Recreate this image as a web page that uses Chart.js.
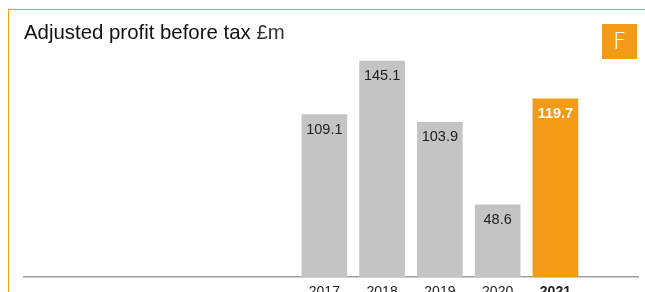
<!DOCTYPE html>
<html>
<head>
<meta charset="utf-8">
<script src="https://cdn.jsdelivr.net/npm/chart.js@4"></script>
<style>
    html, body { margin: 0; padding: 0; width: 645px; height: 292px; overflow: hidden; background: #fff; }
    #frame { position: absolute; left: 8px; top: 9px; right: 0; bottom: 0;
             border-left: 1.5px solid #F39C1A; border-top: 1.5px solid #F39C1A; }
    #title { position: absolute; left: 24px; top: 21px; font-family: 'Liberation Sans', Arial, sans-serif;
             font-size: 20.4px; color: #111; white-space: nowrap; }
    #title span { color: #333; font-weight: 300; }
    #tag { position: absolute; left: 602px; top: 24px; width: 35px; height: 35px; background: #F39A17;
           color: #fff; font-family: 'DejaVu Sans', sans-serif; font-weight: 200; font-size: 23px;
           line-height: 35px; text-align: center; }
    #wrap { position: absolute; left: 0; top: 0; width: 645px; height: 308px; }
</style>
</head>
<body>
<div id="frame"></div>
<div id="wrap"><canvas id="chart"></canvas></div>
<div id="title">Adjusted profit before tax <span>£m</span></div>
<div id="tag">F</div>

<script>
// Data
const years = [2017, 2018, 2019, 2020, 2021];
const profit = [109.1, 145.1, 103.9, 48.6, 119.7];
const highlightYear = 2021;

const grey = '#C4C4C4';
const orange = '#F39A17';

// Value labels inside the top of each bar
const barLabels = {
    id: 'barLabels',
    afterDatasetsDraw(chart) {
        const ctx = chart.ctx;
        const meta = chart.getDatasetMeta(0);
        ctx.save();
        ctx.textAlign = 'center';
        ctx.textBaseline = 'middle';
        meta.data.forEach((bar, i) => {
            const hi = years[i] === highlightYear;
            ctx.font = (hi ? 'bold ' : '') + '14.5px "Liberation Sans", Arial, sans-serif';
            ctx.fillStyle = hi ? '#fff' : '#222';
            ctx.fillText(profit[i].toFixed(1), bar.x, bar.y + 15);
        });
        ctx.restore();
    }
};

new Chart(document.getElementById('chart'), {
    type: 'bar',
    data: {
        datasets: [{
            data: years.map((y, i) => ({ x: y, y: profit[i] })),
            backgroundColor: years.map(y => y === highlightYear ? orange : grey),
            barThickness: 45,
            borderWidth: 0
        }]
    },
    options: {
        responsive: true,
        maintainAspectRatio: false,
        animation: false,
        layout: { padding: { left: 24, right: 7, top: 40, bottom: 0 } },
        plugins: { legend: { display: false }, tooltip: { enabled: false } },
        scales: {
            x: {
                type: 'linear',
                offset: false,
                min: 2011.8,
                max: 2022.43,
                grid: { display: false, drawTicks: false },
                border: { display: true, color: '#A0A0A0', width: 1.5 },
                afterBuildTicks: axis => { axis.ticks = years.map(v => ({ value: v })); },
                ticks: {
                    padding: 7,
                    color: '#222',
                    font: ctx => ({
                        family: '"Liberation Sans", Arial, sans-serif',
                        size: 14,
                        weight: ctx.tick && ctx.tick.value === highlightYear ? 'bold' : 'normal'
                    }),
                    callback: v => String(v)
                }
            },
            y: {
                display: false,
                min: 0,
                max: 159.2
            }
        }
    },
    plugins: [barLabels]
});
</script>
</body>
</html>
